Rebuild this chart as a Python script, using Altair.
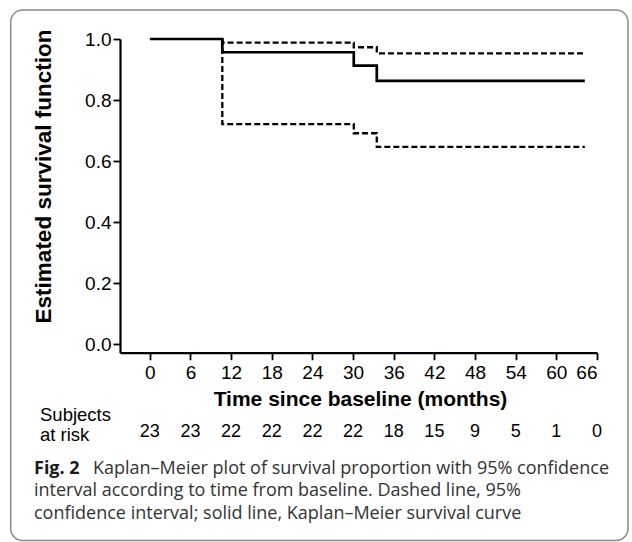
import altair as alt
import pandas as pd

# Kaplan-Meier step data (months, survival)
km_time = [0, 10.7, 30.1, 33.5, 64.2]
km_surv = [1.0, 0.9565, 0.9125, 0.863, 0.863]
# 95% CI step data (drawn from the first event onwards)
ci_time = [10.7, 10.7, 30.1, 33.5, 64.2]
ci_upper = [1.0, 0.988, 0.973, 0.953, 0.953]
ci_lower = [1.0, 0.721, 0.691, 0.646, 0.646]

# Subjects at risk
risk_months = [0, 6, 12, 18, 24, 30, 36, 42, 48, 54, 60, 66]
risk_counts = [23, 23, 22, 22, 22, 22, 18, 15, 9, 5, 1, 0]

x_ticks = [0, 6, 12, 18, 24, 30, 36, 42, 48, 54, 60, 66]
y_ticks = [0.0, 0.2, 0.4, 0.6, 0.8, 1.0]

caption_bold = "Fig. 2"
caption_l1 = "Kaplan\u2013Meier plot of survival proportion with 95% confidence"
caption_l2 = "interval according to time from baseline. Dashed line, 95%"
caption_l3 = "confidence interval; solid line, Kaplan\u2013Meier survival curve"

XDOM = [-4.4, 66]
YDOM = [-0.0285, 1.0]
FONT = "Liberation Sans"
CAPFONT = "Open Sans"
CAPSIZE = 18

km_df = pd.DataFrame({"t": km_time, "s": km_surv})
ci_df = pd.DataFrame({
    "t": ci_time * 2,
    "s": ci_upper + ci_lower,
    "band": ["upper"] * len(ci_time) + ["lower"] * len(ci_time),
    "o": list(range(len(ci_time))) * 2,
})
risk_df = pd.DataFrame({"m": risk_months, "n": risk_counts})
one = pd.DataFrame({"a": [0]})

x_enc = alt.X("t:Q", scale=alt.Scale(domain=XDOM, nice=False, zero=False),
              axis=alt.Axis(values=x_ticks, title="Time since baseline (months)",
                            titleX=240, titleY=53, titleBaseline="alphabetic",
                            titleAlign="center", titleFontSize=21))
y_enc = alt.Y("s:Q", scale=alt.Scale(domain=YDOM, nice=False, zero=False),
              axis=alt.Axis(values=y_ticks, format=".1f", title="Estimated survival function",
                            titleX=-77, titleY=137, titleAlign="center",
                            titleBaseline="middle", titleAngle=270, titleFontSize=22.5))

ci = alt.Chart(ci_df).mark_line(interpolate="step-after", color="black",
                                 strokeWidth=2.3, strokeDash=[6, 3]).encode(
    x=x_enc, y=y_enc, detail="band:N", order="o:Q")

km = alt.Chart(km_df).mark_line(interpolate="step-after", color="black",
                                 strokeWidth=2.7).encode(
    x=alt.X("t:Q", scale=alt.Scale(domain=XDOM, nice=False, zero=False)),
    y=alt.Y("s:Q", scale=alt.Scale(domain=YDOM, nice=False, zero=False)))

risk = alt.Chart(risk_df).mark_text(font=FONT, fontSize=18, color="black",
                                    baseline="alphabetic").encode(
    x=alt.X("m:Q", scale=alt.Scale(domain=XDOM, nice=False, zero=False)),
    y=alt.value(398), text="n:Q")

subj = alt.Chart(one).mark_text(font=FONT, fontSize=18.5, color="black", align="left",
                                baseline="alphabetic", lineHeight=19.5,
                                text=["Subjects", "at risk"]).encode(
    x=alt.value(-80), y=alt.value(382))

cap_b = alt.Chart(one).mark_text(font=CAPFONT, fontSize=CAPSIZE, fontWeight="bold", color="#1a1a1a",
                                 align="left", baseline="alphabetic", text=caption_bold).encode(
    x=alt.value(-86), y=alt.value(435))
cap1 = alt.Chart(one).mark_text(font=CAPFONT, fontSize=CAPSIZE, color="#333333",
                                align="left", baseline="alphabetic", text=caption_l1).encode(
    x=alt.value(-27), y=alt.value(435))
cap2 = alt.Chart(one).mark_text(font=CAPFONT, fontSize=CAPSIZE, color="#333333",
                                align="left", baseline="alphabetic", text=caption_l2).encode(
    x=alt.value(-86), y=alt.value(457))
cap3 = alt.Chart(one).mark_text(font=CAPFONT, fontSize=CAPSIZE, color="#333333",
                                align="left", baseline="alphabetic", text=caption_l3).encode(
    x=alt.value(-86), y=alt.value(479.5))

frame = alt.Chart(one).mark_rect(fill=None, fillOpacity=0, stroke="#8a8a8a", strokeWidth=1.5,
                                 cornerRadius=12).encode(
    x=alt.value(-109.3), x2=alt.value(508), y=alt.value(-29), y2=alt.value(501.5))

chart = alt.layer(frame, ci, km, risk, subj, cap_b, cap1, cap2, cap3).properties(
    width=477, height=313.7, autosize="none",
    padding={"left": 120, "top": 39, "right": 35, "bottom": 189.3},
    background="white",
).configure_view(stroke=None).configure_axis(
    grid=False, domainColor="black", domainWidth=2.2, tickColor="black", tickWidth=1.8,
    tickSize=7, labelFont=FONT, labelFontSize=19, labelColor="black",
    titleFont=FONT, titleFontWeight="bold", titleColor="black",
).configure_axisX(labelPadding=4).configure_axisY(labelPadding=2)

chart.save("out.html", embed_options={"renderer": "svg", "actions": False})
